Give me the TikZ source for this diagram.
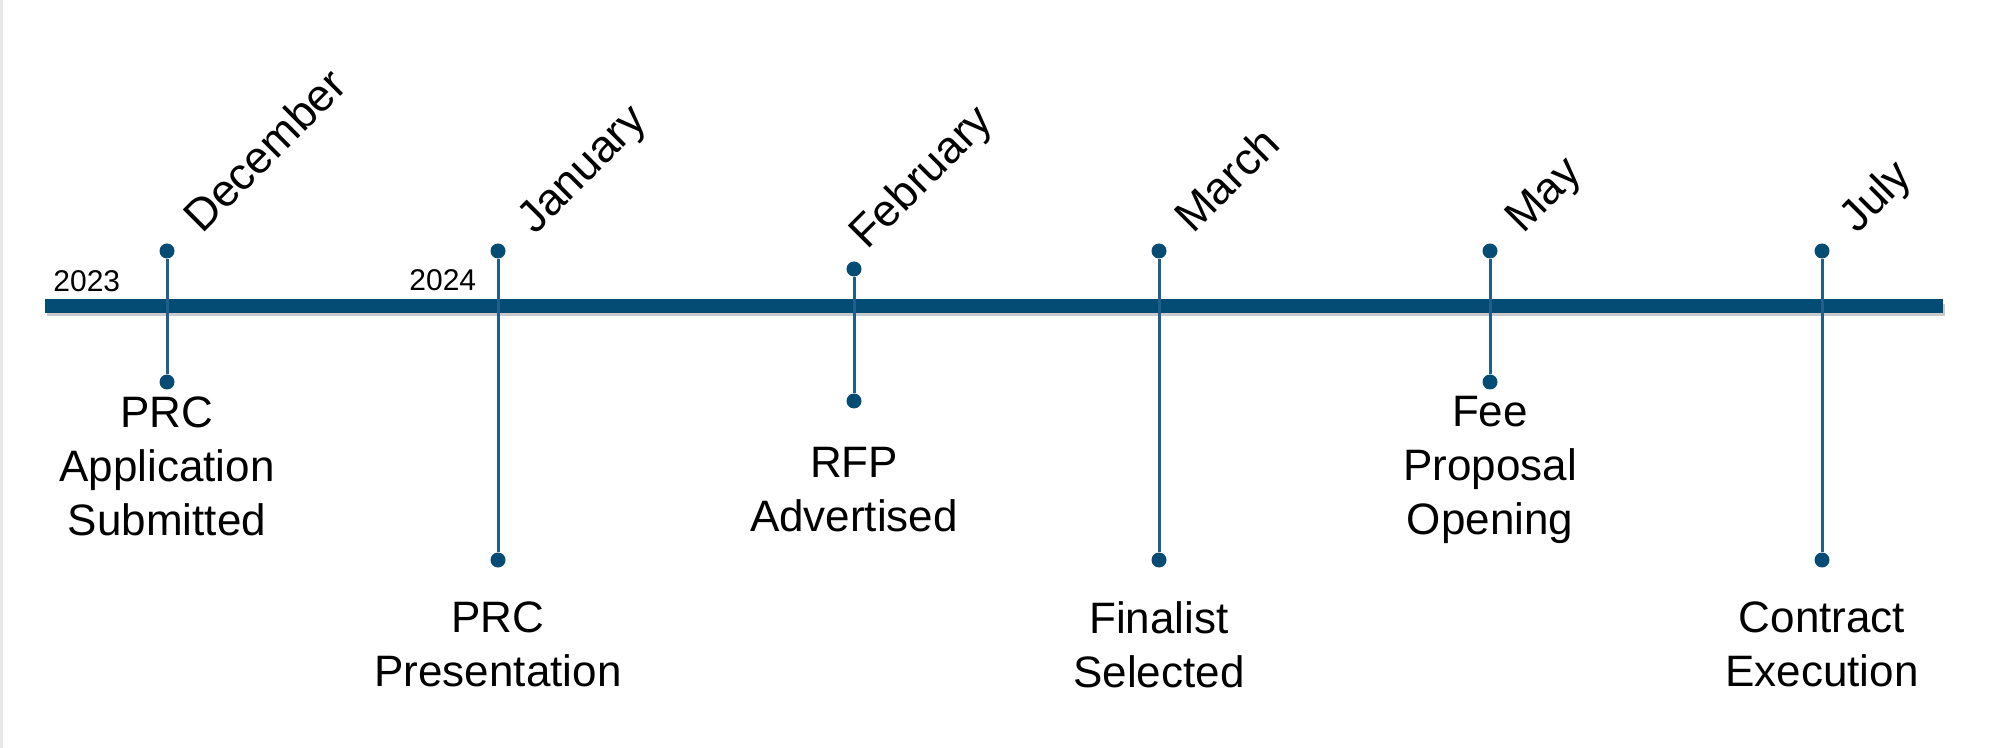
\documentclass[tikz,border=0pt]{standalone}
\usepackage{fontspec}
\setmainfont{Liberation Sans}
\usetikzlibrary{positioning}
\definecolor{barblue}{RGB}{5,76,117}
\definecolor{stemblue}{RGB}{30,96,139}
\tikzset{milestone/.style={circle,fill=barblue,inner sep=0pt,minimum size=7.5pt},
         stemline/.style={draw=stemblue,line width=1.5pt},
         monthlabel/.style={rotate=45,anchor=base west,inner sep=0pt,font=\fontsize{22.5}{27}\selectfont},
         eventlabel/.style={anchor=north,align=center,inner sep=0pt,font=\fontsize{22}{27}\selectfont},
         yearlabel/.style={anchor=base west,inner sep=0pt,font=\fontsize{15}{18}\selectfont}}

\begin{document}
\begin{tikzpicture}[x=0.5pt,y=-0.5pt]
        \useasboundingbox (0,0) rectangle (2002,748);
        \fill[black!9] (0,0) rectangle (3,748);

        % time line
        \coordinate (start) at (45,306);
        \coordinate (end) at (1943,306);
        \draw[black!35,line width=6pt,opacity=0.6] ([shift={(2,4)}]start) -- ([shift={(2,4)}]end);
        \draw[barblue,line width=7pt] (start) -- (end);

        \node[yearlabel](y2023) at (53,292){2023};
        \node[yearlabel](y2024) at (409,291){2024};

        % milestones
        \node[milestone](dectop) at (167,251){};
        \node[milestone](decbot) at (167,382){};
        \node[milestone](jantop) at (498,251){};
        \node[milestone](janbot) at (498,560){};
        \node[milestone](febtop) at (854,269){};
        \node[milestone](febbot) at (854,401){};
        \node[milestone](martop) at (1159,251){};
        \node[milestone](marbot) at (1159,560){};
        \node[milestone](maytop) at (1490,251){};
        \node[milestone](maybot) at (1490,382){};
        \node[milestone](jultop) at (1822,251){};
        \node[milestone](julbot) at (1822,560){};

        \draw[stemline](dectop)--(decbot);
        \draw[stemline](jantop)--(janbot);
        \draw[stemline](febtop)--(febbot);
        \draw[stemline](martop)--(marbot);
        \draw[stemline](maytop)--(maybot);
        \draw[stemline](jultop)--(julbot);

        % months
        \node[monthlabel](decmonth) at (202,235){December};
        \node[monthlabel](janmonth) at (535,236){January};
        \node[monthlabel](febmonth) at (867,251){February};
        \node[monthlabel](marmonth) at (1193,235){March};
        \node[monthlabel](maymonth) at (1523,235){May};
        \node[monthlabel](julmonth) at (1857,235){July};

        % events
        \node[eventlabel](decevent) at (167,396){PRC\\Application\\Submitted};
        \node[eventlabel](janevent) at (498,601){PRC\\Presentation};
        \node[eventlabel](febevent) at (854,447){RFP\\Advertised};
        \node[eventlabel](marevent) at (1159,601){Finalist\\Selected};
        \node[eventlabel](mayevent) at (1490,396){Fee\\Proposal\\Opening};
        \node[eventlabel](julevent) at (1822,601){Contract\\Execution};
    \end{tikzpicture}
\end{document}
